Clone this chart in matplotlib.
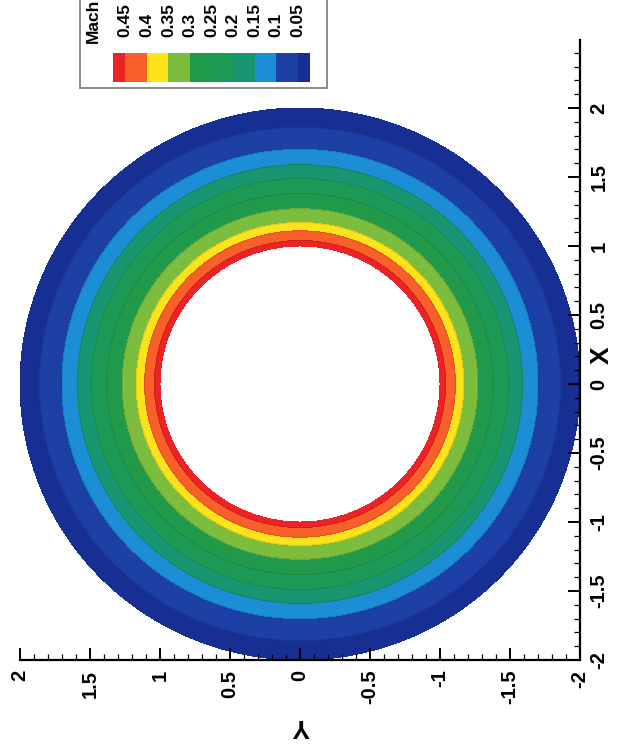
import numpy as np
import matplotlib
matplotlib.use("Agg")
import matplotlib.pyplot as plt
from matplotlib.patches import Rectangle
from matplotlib.ticker import MultipleLocator
from matplotlib.colors import ListedColormap, BoundaryNorm
import matplotlib.transforms as mtransforms

plt.rcParams['font.family'] = ['Liberation Sans', 'DejaVu Sans']
plt.rcParams['font.weight'] = 'bold'

# Radial Mach profile
radius = [1.0, 1.04, 1.11, 1.17, 1.27, 1.38, 1.49, 1.59, 1.70, 1.86, 2.0]
mach = [0.476, 0.45, 0.40, 0.35, 0.30, 0.25, 0.20, 0.15, 0.10, 0.05, 0.03]

levels = [0.0, 0.05, 0.10, 0.15, 0.20, 0.25, 0.30, 0.35, 0.40, 0.45, 0.50]
colors = ['#172f92', '#1c40a6', '#1b8ed6', '#179470', '#1c9a55', '#21994a',
          '#7cbd3e', '#fde31c', '#f8602a', '#ec2324']
legend_labels = ['0.45', '0.4', '0.35', '0.3', '0.25', '0.2', '0.15', '0.1', '0.05']
legend_bounds = [0.4786, 0.45, 0.40, 0.35, 0.30, 0.25, 0.20, 0.15, 0.10, 0.05, 0.0214]

W, H = 629, 750
fig = plt.figure(figsize=(W / 100, H / 100), dpi=100)

def fx(x):
    return x / W

def fy(y):
    return 1 - y / H

ax = fig.add_axes([fx(20), fy(660), (580 - 20) / W, (660 - 40) / H])

theta = np.linspace(0, 2 * np.pi, 721)
R, T = np.meshgrid(np.array(radius), theta)
M = np.tile(np.array(mach), (len(theta), 1))
Xc = R * np.cos(T)   # X coordinate (vertical in this rotated view)
Yc = R * np.sin(T)   # Y coordinate (horizontal)

cmap = ListedColormap(colors)
norm = BoundaryNorm(levels, cmap.N)
ax.contourf(Yc, Xc, M, levels=levels, cmap=cmap, norm=norm)
ax.contour(Yc, Xc, M, levels=levels[1:-1], colors='k', linewidths=0.4, alpha=0.2)

ax.set_xlim(2, -2)
ax.set_ylim(-2, 2 + 68 / 138)
for s in ['top', 'left']:
    ax.spines[s].set_visible(False)
for s in ['bottom', 'right']:
    ax.spines[s].set_linewidth(1.6)
ax.set_facecolor('none')

ax.yaxis.tick_right()
ax.yaxis.set_label_position('right')
for axis in (ax.xaxis, ax.yaxis):
    axis.set_major_locator(MultipleLocator(0.5))
    axis.set_minor_locator(MultipleLocator(0.1))
ax.tick_params(which='major', direction='in', length=9, width=1.4, labelsize=14.5, pad=7)
ax.tick_params(which='minor', direction='in', length=4, width=0.9)
ax.tick_params(axis='x', labelrotation=90)
ax.tick_params(axis='y', labelrotation=90)

def fmt(v, pos=None):
    return '%g' % v
ax.xaxis.set_major_formatter(plt.FuncFormatter(fmt))
ax.yaxis.set_major_formatter(plt.FuncFormatter(fmt))
for lab in ax.get_yticklabels():
    lab.set_va('center')
    lab.set_fontweight('bold')
for lab in ax.get_xticklabels():
    lab.set_fontweight('bold')

fig.text(fx(602), fy(355), 'X', rotation=90, fontsize=19, fontweight='bold',
         ha='center', va='center')
fig.text(fx(301), fy(726), 'Y', rotation=180, fontsize=19, fontweight='bold',
         ha='center', va='center')

# Legend box
fig.patches.append(Rectangle((fx(80), fy(88)), (327 - 80) / W, 100 / H,
                             transform=fig.transFigure, facecolor='white',
                             edgecolor='#8a8a8a', linewidth=1.4, zorder=5))
cax = fig.add_axes([fx(113), fy(82), (310 - 113) / W, (82 - 53) / H], zorder=6)
cax.pcolormesh(np.array(legend_bounds[::-1]), [0, 1],
               np.arange(len(legend_bounds) - 1)[None, :],
               cmap=ListedColormap(colors), shading='flat')
cax.set_xlim(legend_bounds[0], legend_bounds[-1])
cax.set_ylim(0, 1)
cax.axis('off')
trans = mtransforms.blended_transform_factory(cax.transData, fig.transFigure)
for lab, v in zip(legend_labels, legend_bounds[1:-1]):
    fig.text(v, fy(37), lab, transform=trans, rotation=90, fontsize=12.5,
             fontweight='bold', ha='center', va='bottom', zorder=7)
fig.text(fx(93), fy(43), 'Mach', rotation=90, fontsize=12.5, fontweight='bold',
         ha='center', va='bottom', zorder=7)

fig.savefig('out.png', dpi=100)
